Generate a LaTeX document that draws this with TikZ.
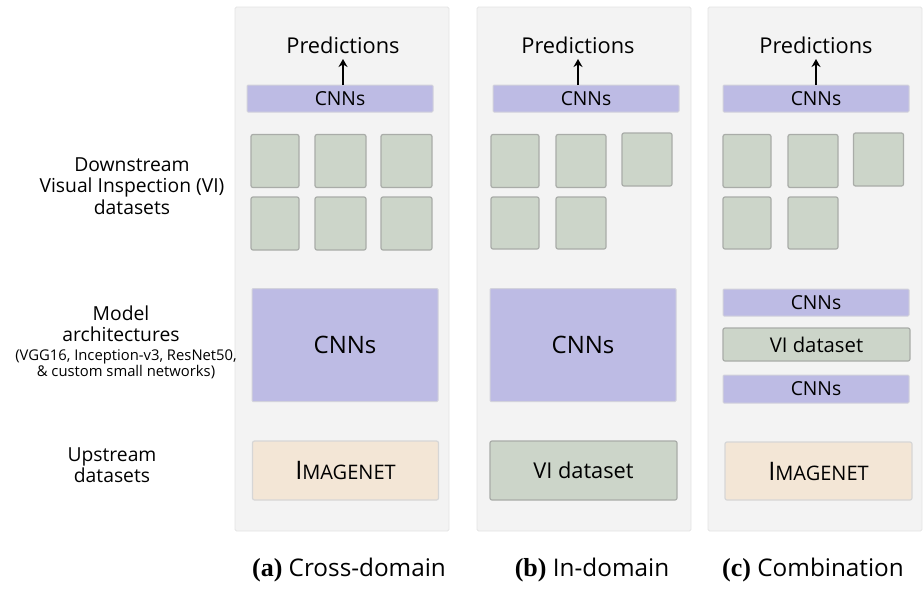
\documentclass[tikz,border=0pt]{standalone}
\usepackage{fontspec}
\setmainfont{Open Sans}
\newfontfamily\capserif{Liberation Serif}
\usetikzlibrary{arrows.meta}
\definecolor{panelbg}{HTML}{F3F3F3}
\definecolor{panelbd}{HTML}{E4E4E4}
\definecolor{cnnfill}{HTML}{BDBBE4}
\definecolor{cnnbd}{HTML}{D2D2DC}
\definecolor{vifill}{HTML}{CCD5C9}
\definecolor{vibd}{HTML}{A9ACA8}
\definecolor{imfill}{HTML}{F3E6D6}
\definecolor{imbd}{HTML}{D6D6D6}
\tikzset{
  panel/.style={fill=panelbg,draw=panelbd,line width=0.8pt,rounded corners=1.5pt},
  cnn/.style={fill=cnnfill,draw=cnnbd,line width=1pt,rounded corners=1pt},
  vi/.style={fill=vifill,draw=vibd,line width=1.2pt,rounded corners=2pt},
  im/.style={fill=imfill,draw=imbd,line width=1.2pt,rounded corners=2pt},
  lbl/.style={align=center,inner sep=0pt,font=\fontsize{19.3}{21.5}\selectfont},
  predtxt/.style={inner sep=0pt,anchor=base,font=\fontsize{21.8}{24}\selectfont},
  bartxt/.style={font=\fontsize{19.3}{22}\selectfont},
  bigtxt/.style={font=\fontsize{24}{26}\selectfont},
  captxt/.style={inner sep=0pt,anchor=base,font=\fontsize{24.3}{26}\selectfont},
  arr/.style={-{Stealth[length=8pt,width=9pt]},line width=2pt}
}
\newcommand{\imgnet}{{\fontsize{25.5}{26}\selectfont I}{\fontsize{20}{20}\selectfont MAGENET}}
\begin{document}
\begin{tikzpicture}[x=1pt,y=-1pt]
\useasboundingbox (0,0) rectangle (924,590);
% panels
\draw[panel] (235,7) rectangle (449,531);
\draw[panel] (477,7) rectangle (691,531);
\draw[panel] (708,7) rectangle (922,531);

% left labels
\node[lbl] (down) at (132,186) {Downstream\\Visual Inspection (VI)\\datasets};
\node[lbl] (model) at (121,324) {Model\\architectures};
\node[lbl,font=\fontsize{14.8}{13.5}\selectfont] (arch) at (126,364) {(VGG16, Inception-v3, ResNet50,\\\& custom small networks)};
\node[lbl] (up) at (112,465) {Upstream\\datasets};

% ---------- panel a ----------
\node[cnn,minimum width=186pt,minimum height=27pt,bartxt] (a-bar) at (340,98.5) {CNNs};
\node[predtxt] (a-pred) at (343,53) {Predictions};
\coordinate (a-arrs) at (343,85);
\coordinate (a-arre) at (343,59);
\draw[arr] (a-arrs) -- (a-arre);
\node[vi,minimum width=48pt,minimum height=53pt] (a-s1) at (275,161) {};
\node[vi,minimum width=51pt,minimum height=53pt] (a-s2) at (340.5,161) {};
\node[vi,minimum width=51pt,minimum height=53pt] (a-s3) at (406.5,161) {};
\node[vi,minimum width=48pt,minimum height=53pt] (a-s4) at (275,223.5) {};
\node[vi,minimum width=51pt,minimum height=53pt] (a-s5) at (340.5,223.5) {};
\node[vi,minimum width=51pt,minimum height=53pt] (a-s6) at (406.5,223.5) {};
\node[cnn,minimum width=186pt,minimum height=113pt,bigtxt] (a-big) at (345,345) {CNNs};
\node[im,minimum width=186pt,minimum height=59pt] (a-im) at (345.5,470.5) {\imgnet};

% ---------- panel b ----------
\node[cnn,minimum width=186pt,minimum height=27pt,bartxt] (b-bar) at (586,98.5) {CNNs};
\node[predtxt] (b-pred) at (578,53) {Predictions};
\coordinate (b-arrs) at (578,85);
\coordinate (b-arre) at (578,59);
\draw[arr] (b-arrs) -- (b-arre);
\node[vi,minimum width=48pt,minimum height=53pt] (b-s1) at (515,161) {};
\node[vi,minimum width=50pt,minimum height=53pt] (b-s2) at (581,161) {};
\node[vi,minimum width=50pt,minimum height=53pt] (b-s3) at (647,159.5) {};
\node[vi,minimum width=48pt,minimum height=52pt] (b-s4) at (515,223) {};
\node[vi,minimum width=50pt,minimum height=52pt] (b-s5) at (581,223) {};
\node[cnn,minimum width=186pt,minimum height=113pt,bigtxt] (b-big) at (583,345) {CNNs};
\node[vi,minimum width=187pt,minimum height=59pt,font=\fontsize{21.8}{24}\selectfont] (b-vi) at (583.5,470.5) {VI dataset};

% ---------- panel c ----------
\node[cnn,minimum width=186pt,minimum height=27pt,bartxt] (c-bar) at (816,98.5) {CNNs};
\node[predtxt] (c-pred) at (816,53) {Predictions};
\coordinate (c-arrs) at (816,85);
\coordinate (c-arre) at (816,59);
\draw[arr] (c-arrs) -- (c-arre);
\node[vi,minimum width=48pt,minimum height=53pt] (c-s1) at (747,161) {};
\node[vi,minimum width=50pt,minimum height=53pt] (c-s2) at (813,161) {};
\node[vi,minimum width=50pt,minimum height=53pt] (c-s3) at (878.5,159.5) {};
\node[vi,minimum width=48pt,minimum height=52pt] (c-s4) at (747,223) {};
\node[vi,minimum width=50pt,minimum height=52pt] (c-s5) at (813,223) {};
\node[cnn,minimum width=186pt,minimum height=27pt,bartxt] (c-cnn1) at (816,302.5) {CNNs};
\node[vi,minimum width=187pt,minimum height=33pt,font=\fontsize{20.3}{22}\selectfont] (c-vi) at (816.5,344.5) {VI dataset};
\node[cnn,minimum width=186pt,minimum height=28pt,bartxt] (c-cnn2) at (816,389) {CNNs};
\node[im,minimum width=187pt,minimum height=58pt] (c-im) at (818.5,471) {\imgnet};

% captions
\node[captxt] (cap-a) at (349,576) {{\capserif\bfseries\fontsize{26}{26}\selectfont (a)} Cross-domain};
\node[captxt] (cap-b) at (592,576) {{\capserif\bfseries\fontsize{26}{26}\selectfont (b)} In-domain};
\node[captxt] (cap-c) at (813,576) {{\capserif\bfseries\fontsize{26}{26}\selectfont (c)} Combination};
\end{tikzpicture}
\end{document}
